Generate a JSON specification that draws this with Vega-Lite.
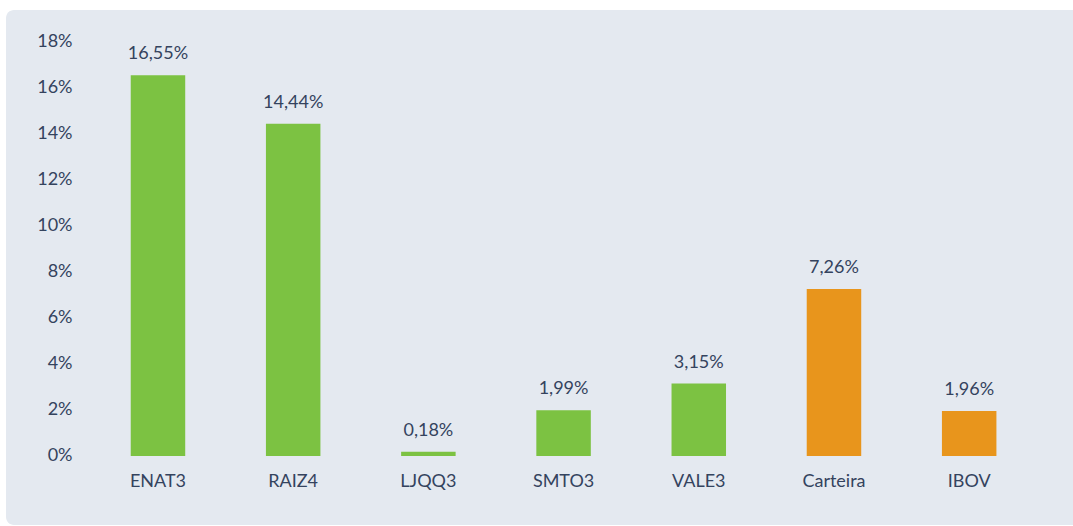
{
  "$schema": "https://vega.github.io/schema/vega-lite/v6.json",
  "width": 1080,
  "height": 515,
  "autosize": "none",
  "padding": {"left": 6, "top": 10, "right": 0, "bottom": 1},
  "background": "white",
  "config": {
    "view": {"fill": "#e4e9f0", "stroke": null, "cornerRadius": 8},
    "font": "Lato"
  },
  "data": {
    "values": [
      {"ativo": "ENAT3", "retorno": 16.55, "rotulo": "16,55%", "tipo": "acao"},
      {"ativo": "RAIZ4", "retorno": 14.44, "rotulo": "14,44%", "tipo": "acao"},
      {"ativo": "LJQQ3", "retorno": 0.18, "rotulo": "0,18%", "tipo": "acao"},
      {"ativo": "SMTO3", "retorno": 1.99, "rotulo": "1,99%", "tipo": "acao"},
      {"ativo": "VALE3", "retorno": 3.15, "rotulo": "3,15%", "tipo": "acao"},
      {"ativo": "Carteira", "retorno": 7.26, "rotulo": "7,26%", "tipo": "ref"},
      {"ativo": "IBOV", "retorno": 1.96, "rotulo": "1,96%", "tipo": "ref"}
    ]
  },
  "encoding": {
    "x": {
      "field": "ativo",
      "type": "nominal",
      "sort": null,
      "title": null,
      "scale": {"paddingInner": 0.597, "paddingOuter": 0.7926, "align": 0.582},
      "axis": {
        "orient": "bottom",
        "offset": -69,
        "domain": false,
        "ticks": false,
        "grid": false,
        "labelAngle": 0,
        "labelPadding": 16,
        "labelFontSize": 18,
        "labelColor": "#34435e",
        "labelFont": "Lato"
      }
    }
  },
  "layer": [
    {
      "mark": {"type": "bar"},
      "encoding": {
        "y": {
          "field": "retorno",
          "type": "quantitative",
          "title": null,
          "scale": {"domain": [-3.0, 19.39], "nice": false, "zero": false},
          "axis": {
            "values": [0, 2, 4, 6, 8, 10, 12, 14, 16, 18],
            "labelExpr": "datum.value + '%'",
            "domain": false,
            "ticks": false,
            "grid": false,
            "offset": -66,
            "labelPadding": 0,
            "labelFontSize": 18,
            "labelColor": "#34435e",
            "labelFont": "Lato"
          }
        },
        "y2": {"datum": 0},
        "color": {
          "field": "tipo",
          "type": "nominal",
          "scale": {"domain": ["acao", "ref"], "range": ["#7cc242", "#e8951c"]},
          "legend": null
        }
      }
    },
    {
      "mark": {"type": "text", "baseline": "alphabetic", "dy": -16, "fontSize": 18, "color": "#34435e", "font": "Lato"},
      "encoding": {
        "y": {"field": "retorno", "type": "quantitative"},
        "text": {"field": "rotulo"}
      }
    }
  ]
}
